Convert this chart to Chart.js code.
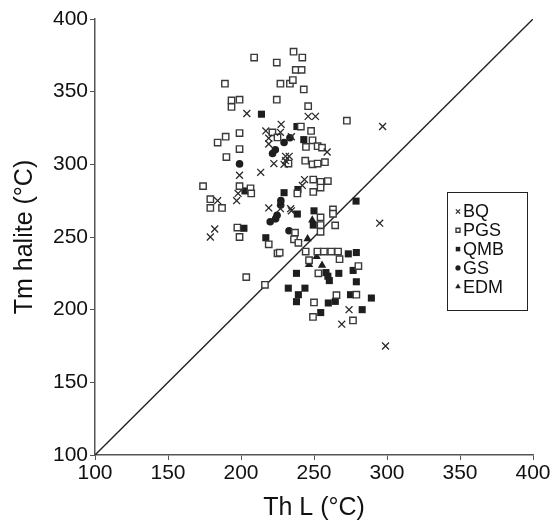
<!DOCTYPE html>
<html>
<head>
  <title>Tm halite vs Th L</title>
  <script src="https://cdn.jsdelivr.net/npm/chart.js"></script>
  <style>
    body {
      margin: 0;
      background-color: #fff;
    }
    #wrap {
      width: 555px;
      height: 524px;
    }
  </style>
</head>
<body>
  <div id="wrap">
    <canvas id="scatterChart" width="555" height="524"></canvas>
  </div>

  <script>
    // series names, in legend order
    const seriesNames = ['BQ', 'PGS', 'QMB', 'GS', 'EDM'];

    // BQ (crosses)
    const bqX = [204, 227.5, 217, 227, 219, 234.5, 219, 230.5, 233, 230.5, 222.5, 229.5, 213.5, 199, 198, 197, 184, 182, 179, 246, 251, 259, 243.5, 242, 219, 227, 234, 234.5, 274, 269, 299, 295, 297];
    const bqY = [335, 327.5, 323, 322, 318, 319, 314, 305.5, 305.5, 302.5, 300.5, 300, 294.5, 292.5, 280, 275, 275, 255.5, 250, 333, 333, 308.5, 289.5, 285.5, 270, 269.5, 269.5, 268, 200, 190, 175, 259.5, 326];

    // PGS (open squares)
    const pgsX = [209, 236, 242, 224.5, 237.5, 241.5, 189, 227, 233.5, 235.5, 243, 193.5, 199, 193.5, 224.5, 246, 272.5, 241, 199, 189.5, 184, 199, 190, 221.5, 225, 248, 244.5, 249, 252.5, 255.5, 232.5, 244, 249, 252.5, 257.5, 174, 199, 206.5, 207, 179, 179, 187, 197.5, 199, 219, 225, 226.5, 237, 236.3, 239.3, 238.6, 249.5, 254.5, 259.5, 249.5, 254.5, 254.5, 254.5, 254.5, 263, 263, 264.5, 244.3, 252.3, 256.8, 261.8, 266.5, 267.5, 246.6, 203.6, 216.4, 253, 280.4, 250, 249.3, 265.4, 279, 276.7];
    const pgsY = [373.5, 377.5, 373.5, 370, 365, 365, 355.5, 355.5, 355.5, 358, 351.5, 344, 344.5, 339.5, 344.5, 340, 330, 326, 321.5, 319, 315, 310.5, 305, 322, 318.5, 323, 312, 316.5, 312.5, 311.5, 300.5, 302.5, 300, 300.5, 301.5, 285, 285, 283.5, 280, 276, 270, 270, 256.5, 250, 245, 238.8, 239.2, 253, 248.4, 246, 280, 289.5, 288, 288.5, 281, 284, 263.5, 258.2, 253.6, 269, 266, 258, 240, 240, 240, 240, 240, 234.7, 234, 222.4, 217.1, 225, 230, 205, 195, 210, 210.3, 192.6];

    // QMB (filled squares)
    const qmbX = [214, 238.3, 243, 202.7, 202, 217, 229.5, 239, 238.6, 250, 249.5, 273.5, 279, 238, 258.2, 259.5, 260.5, 267, 276.8, 279, 232.4, 243.8, 239.3, 238, 254.6, 259.8, 264.6, 275, 289.3, 283, 278.8];
    const qmbY = [334.5, 326, 317, 281.7, 256, 249.5, 280.5, 282.7, 265.8, 268, 258.2, 238.4, 239.3, 225, 225.5, 223, 220, 225, 227, 219.2, 214.8, 214.8, 210.3, 205.5, 198, 204.6, 205.7, 210.3, 208, 200, 274.7];

    // GS (filled circles)
    const gsX = [199, 229.5, 233.5, 223.5, 221.6, 227.3, 227.2, 224.7, 223.7, 220, 232.9];
    const gsY = [300.3, 315, 318.3, 310, 307.5, 275, 272, 265, 262.5, 260.5, 254.3];

    // EDM (filled triangles)
    const edmX = [248.8, 245.6, 251.8, 246.6, 255.5];
    const edmY = [261.6, 248.8, 236.5, 231, 230.5];

    // 1:1 line and axis ticks
    const lineX = [100, 400];
    const lineY = [100, 400];
    const axisMin = 100;
    const axisMax = 400;
    const axisStep = 50;

    function toPoints(xs, ys) {
      return xs.map((x, i) => ({ x: x, y: ys[i] }));
    }

    const ink = '#1e1e1e';

    const styles = [
      { pointStyle: 'crossRot', radius: 4.9, borderWidth: 1.3, borderColor: '#2a2a2a', backgroundColor: '#2a2a2a', legendRadius: 3 },
      { pointStyle: 'rect', radius: 4.5, borderWidth: 1.4, borderColor: '#3a3a3a', backgroundColor: '#fff', legendRadius: 2.8 },
      { pointStyle: 'rect', radius: 5, borderWidth: 0, borderColor: ink, backgroundColor: ink, legendRadius: 3.2 },
      { pointStyle: 'circle', radius: 3.8, borderWidth: 0, borderColor: ink, backgroundColor: ink, legendRadius: 2.6 },
      { pointStyle: 'triangle', radius: 4.8, borderWidth: 0, borderColor: ink, backgroundColor: ink, legendRadius: 3.2 }
    ];

    const seriesData = [
      toPoints(bqX, bqY),
      toPoints(pgsX, pgsY),
      toPoints(qmbX, qmbY),
      toPoints(gsX, gsY),
      toPoints(edmX, edmY)
    ];

    const datasets = seriesNames.map((name, i) => ({
      type: 'scatter',
      label: name,
      data: seriesData[i],
      pointStyle: styles[i].pointStyle,
      pointRadius: styles[i].radius,
      pointBorderWidth: styles[i].borderWidth,
      pointBorderColor: styles[i].borderColor,
      pointBackgroundColor: styles[i].backgroundColor,
      legendRadius: styles[i].legendRadius,
      order: 1
    }));

    datasets.push({
      type: 'line',
      label: '1:1',
      data: toPoints(lineX, lineY),
      borderColor: '#222',
      borderWidth: 1.4,
      pointRadius: 0,
      fill: false,
      order: 10
    });

    // legend box drawn inside the plot, right side
    const legendBox = {
      id: 'legendBox',
      afterDraw(chart) {
        const ctx = chart.ctx;
        const left = 447.5, top = 192.5, w = 80, h = 118;
        const rowH = 18.8, firstRow = 211.5;
        ctx.save();
        ctx.fillStyle = '#fff';
        ctx.fillRect(left, top, w, h);
        ctx.strokeStyle = '#222';
        ctx.lineWidth = 1;
        ctx.strokeRect(left, top, w, h);
        ctx.font = '18px "Liberation Sans", Arial, sans-serif';
        ctx.textBaseline = 'middle';
        ctx.textAlign = 'left';
        chart.data.datasets.forEach((ds, i) => {
          if (ds.type !== 'scatter') return;
          const y = firstRow + i * rowH;
          ctx.fillStyle = ds.pointBackgroundColor;
          ctx.strokeStyle = ds.pointBorderColor;
          ctx.lineWidth = ds.pointBorderWidth || 1;
          Chart.helpers.drawPoint(ctx, {
            pointStyle: ds.pointStyle,
            radius: ds.legendRadius,
            borderWidth: ds.pointBorderWidth
          }, 458, y);
          ctx.fillStyle = '#111';
          ctx.fillText(ds.label, 463, y + 1);
        });
        ctx.restore();
      }
    };

    const tickFont = { family: '"Liberation Sans", Arial, sans-serif', size: 21 };
    const titleFont = { family: '"Liberation Sans", Arial, sans-serif', size: 25 };

    new Chart(document.getElementById('scatterChart').getContext('2d'), {
      data: { datasets: datasets },
      options: {
        responsive: false,
        animation: false,
        layout: { padding: { top: 19, right: 22, left: 0, bottom: 0 } },
        plugins: {
          legend: { display: false },
          tooltip: { enabled: false }
        },
        scales: {
          x: {
            type: 'linear',
            min: axisMin,
            max: axisMax,
            afterFit: function(scale) { scale.height = 69; },
            ticks: { stepSize: axisStep, font: tickFont, color: '#111', padding: 1, maxRotation: 0 },
            grid: { drawOnChartArea: false, drawTicks: true, tickLength: 5, color: '#555' },
            border: { color: '#555', width: 1.5 },
            title: { display: true, text: 'Th L (°C)', font: titleFont, color: '#111', padding: { bottom: 1 } }
          },
          y: {
            type: 'linear',
            min: axisMin,
            max: axisMax,
            afterFit: function(scale) { scale.width = 95; },
            ticks: { stepSize: axisStep, font: tickFont, color: '#111', padding: 2 },
            grid: { drawOnChartArea: false, drawTicks: true, tickLength: 5, color: '#555' },
            border: { color: '#555', width: 1.5 },
            title: { display: true, text: 'Tm halite (°C)', font: titleFont, color: '#111', padding: { top: 10 } }
          }
        }
      },
      plugins: [legendBox]
    });
  </script>
</body>
</html>
